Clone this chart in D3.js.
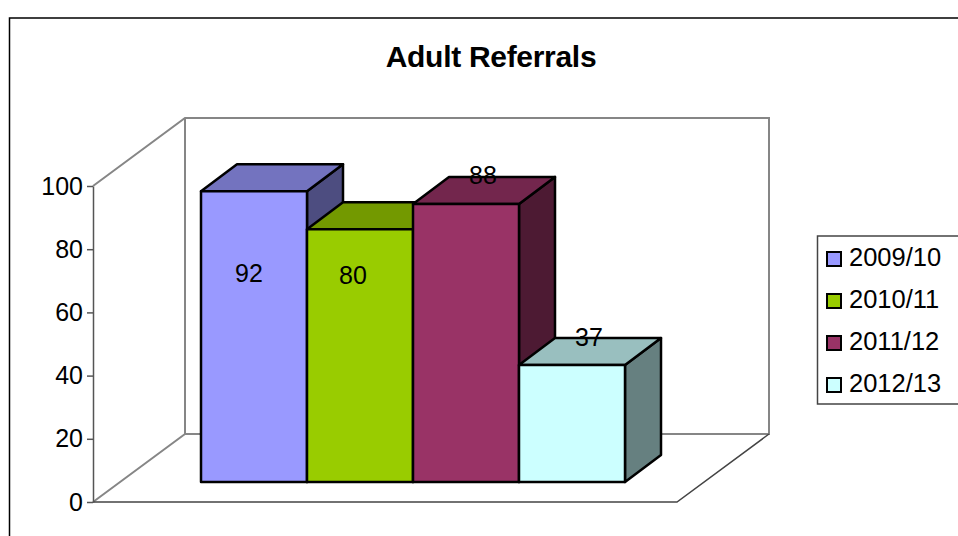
<!DOCTYPE html>
<html>
<head>
<meta charset="utf-8">
<script src="https://cdn.jsdelivr.net/npm/d3@7"></script>
<style>
  html, body { margin: 0; padding: 0; background: #fff; overflow: hidden; }
  text { font-family: "Liberation Sans", Arial, sans-serif; fill: #000; }
</style>
</head>
<body>
<div id="chart"></div>
<script>
// values
var categories = ["2009/10", "2010/11", "2011/12", "2012/13"];
var values = [92, 80, 88, 37];
var colours = ["#9999ff", "#99cc00", "#993366", "#ccffff"];
var y_ticks = [0, 20, 40, 60, 80, 100];

// excel drops its labels in odd spots, so nudge each one from the bar's top centre
var label_nudge = [[-5, 91], [-7, 55], [17, -20], [17, -19]];

var width = 958, height = 536;

// front plane of the 3d box
var box = {left: 93, right: 677, bottom: 502, top: 186};
// how far the back wall is pushed
var wall = {dx: 92, dy: -68};
// bars stand inside the floor, with their own depth
var bar_base = {dx: 108, dy: -20};
var bar_depth = {dx: 36, dy: -27};

var svg = d3.select("#chart").append("svg")
    .attr("width", width)
    .attr("height", height)
    .style("display", "block");

var x = d3.scaleBand()
    .domain(categories)
    .range([box.left + bar_base.dx, box.left + bar_base.dx + 424])
    .padding(0);

var y = d3.scaleLinear()
    .domain([0, 100])
    .range([box.bottom, box.top]);

// outer chart frame, runs off the page on the right and bottom
svg.append("path")
    .attr("d", "M9.5," + (height + 2) + "V18H" + (width + 2))
    .attr("fill", "none")
    .attr("stroke", "#000")
    .attr("stroke-width", 1.5);

// title
svg.append("text")
    .attr("x", 491)
    .attr("y", 67)
    .attr("text-anchor", "middle")
    .style("font-size", "30px")
    .style("font-weight", "bold")
    .style("letter-spacing", "-0.3px")
    .text("Adult Referrals");

// back wall and left side
var wall_left = box.left + wall.dx,
    wall_right = box.right + wall.dx,
    wall_top = y(100) + wall.dy,
    wall_bottom = y(0) + wall.dy;

svg.append("path")
    .attr("d", "M" + box.left + "," + y(100) + "L" + wall_left + "," + wall_top +
               "H" + wall_right + "V" + wall_bottom + "H" + wall_left + "V" + wall_top +
               "M" + wall_left + "," + wall_bottom + "L" + box.left + "," + y(0))
    .attr("fill", "none")
    .attr("stroke", "#868686")
    .attr("stroke-width", 2);

// floor edges
svg.append("path")
    .attr("d", "M" + box.left + "," + y(0) + "H" + box.right + "L" + wall_right + "," + wall_bottom)
    .attr("fill", "none")
    .attr("stroke", "#444")
    .attr("stroke-width", 1.5);

// y axis
var y_axis = svg.append("g")
    .attr("transform", "translate(" + box.left + ",0)")
    .call(d3.axisLeft(y).tickValues(y_ticks).tickSize(6).tickPadding(4).tickSizeOuter(0));

y_axis.selectAll("path, line")
    .attr("stroke", "#555")
    .attr("stroke-width", 1.5);

y_axis.selectAll("text")
    .style("font-size", "25px")
    .style("font-family", '"Liberation Sans", Arial, sans-serif')
    .attr("fill", "#000");

// bars, left to right so each one overlaps the side of the one before
var bar_bottom = y(0) + bar_base.dy;

function bar_top(d) {
    return y(d) + bar_base.dy;
}

function shade(colour, k) {
    var c = d3.rgb(colour);
    return d3.rgb(c.r * k, c.g * k, c.b * k).formatHex();
}

var bars = svg.selectAll(".bar")
    .data(values)
    .enter().append("g")
    .attr("class", "bar")
    .attr("stroke", "#000")
    .attr("stroke-width", 2.5)
    .attr("stroke-linejoin", "round");

// right side
bars.append("path")
    .attr("fill", function(d, i) { return shade(colours[i], 0.5); })
    .attr("d", function(d, i) {
        var x1 = x(categories[i]) + x.bandwidth();
        return "M" + x1 + "," + bar_top(d) +
               "l" + bar_depth.dx + "," + bar_depth.dy +
               "V" + (bar_bottom + bar_depth.dy) +
               "L" + x1 + "," + bar_bottom + "Z";
    });

// top
bars.append("path")
    .attr("fill", function(d, i) { return shade(colours[i], 0.75); })
    .attr("d", function(d, i) {
        var x0 = x(categories[i]);
        return "M" + x0 + "," + bar_top(d) +
               "l" + bar_depth.dx + "," + bar_depth.dy +
               "h" + x.bandwidth() +
               "l" + (-bar_depth.dx) + "," + (-bar_depth.dy) + "Z";
    });

// front
bars.append("rect")
    .attr("x", function(d, i) { return x(categories[i]); })
    .attr("y", bar_top)
    .attr("width", x.bandwidth())
    .attr("height", function(d) { return bar_bottom - bar_top(d); })
    .attr("fill", function(d, i) { return colours[i]; });

// value labels
svg.selectAll(".value-label")
    .data(values)
    .enter().append("text")
    .attr("class", "value-label")
    .attr("x", function(d, i) { return x(categories[i]) + x.bandwidth() / 2 + label_nudge[i][0]; })
    .attr("y", function(d, i) { return bar_top(d) + label_nudge[i][1]; })
    .attr("text-anchor", "middle")
    .style("font-size", "25px")
    .text(function(d) { return d; });

// legend, box runs off the right of the page
var legend = svg.append("g");

legend.append("path")
    .attr("d", "M" + (width + 2) + ",236H817.5V404H" + (width + 2))
    .attr("fill", "#fff")
    .attr("stroke", "#444")
    .attr("stroke-width", 1.5);

var legend_y = d3.scalePoint()
    .domain(categories)
    .range([258, 384]);

var legend_rows = legend.selectAll(".legend-row")
    .data(categories)
    .enter().append("g")
    .attr("class", "legend-row")
    .attr("transform", function(d) { return "translate(0," + legend_y(d) + ")"; });

legend_rows.append("rect")
    .attr("x", 827)
    .attr("y", -6)
    .attr("width", 14)
    .attr("height", 14)
    .attr("fill", function(d, i) { return colours[i]; })
    .attr("stroke", "#000")
    .attr("stroke-width", 2);

legend_rows.append("text")
    .attr("x", 849)
    .attr("y", 8)
    .style("font-size", "25.5px")
    .text(function(d) { return d; });
</script>
</body>
</html>
